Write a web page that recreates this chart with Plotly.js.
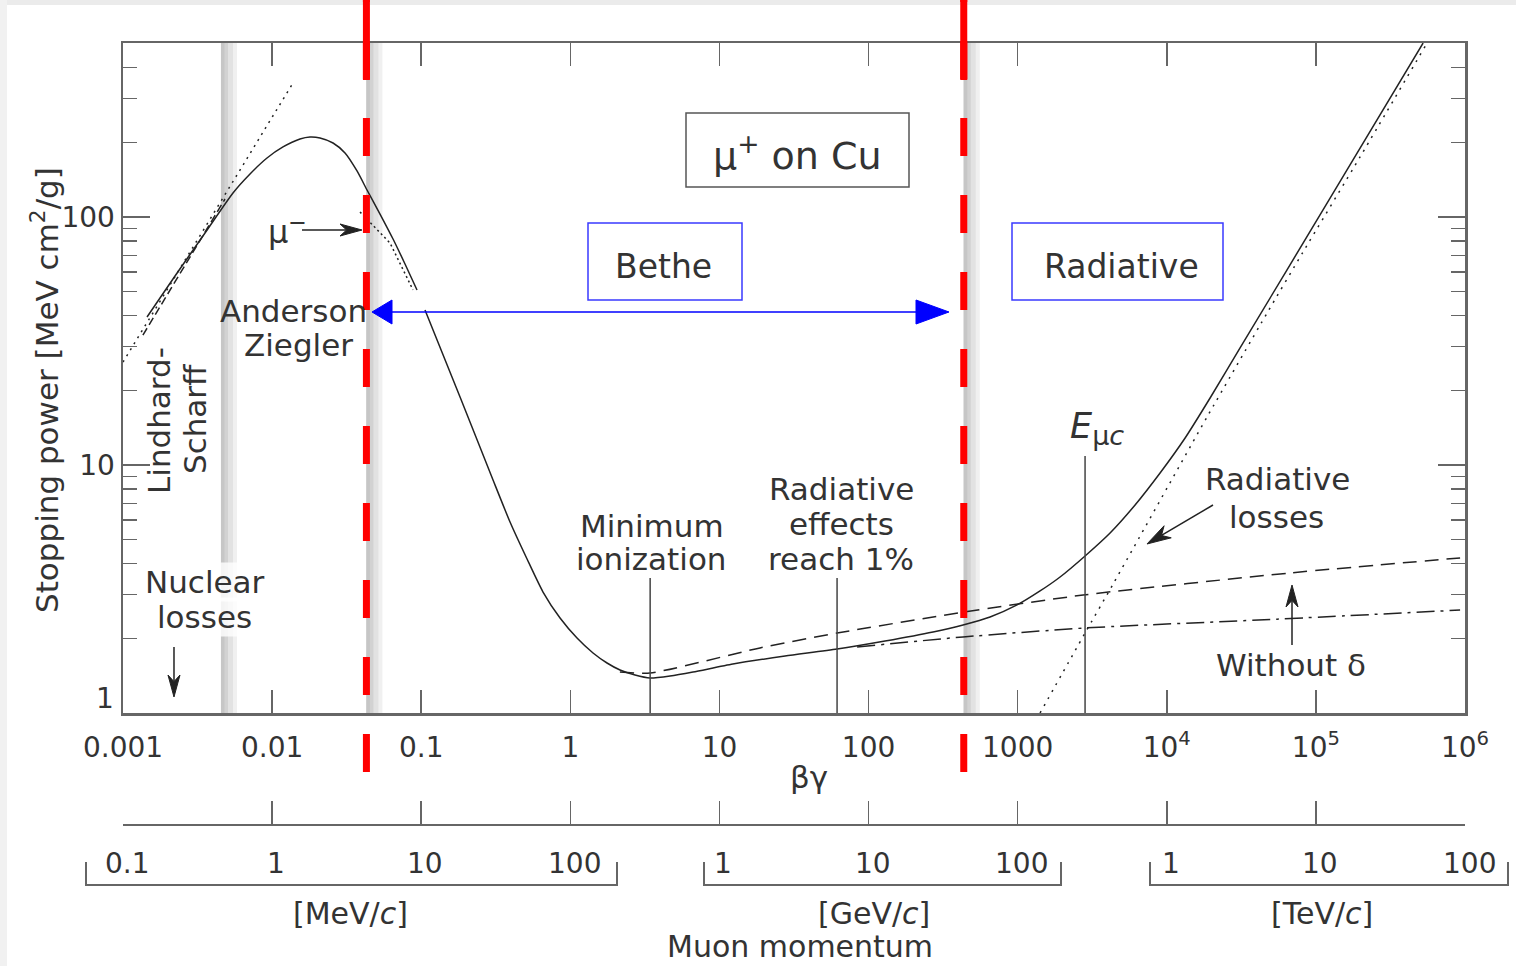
<!DOCTYPE html>
<html><head><meta charset="utf-8">
<script src="https://cdn.plot.ly/plotly-3.0.1.min.js"></script>
<style>html,body{margin:0;padding:0;background:#fff;}#chart{width:1516px;height:966px;}</style>
</head><body><div id="chart"></div>
<script>
// ---------------- data (βγ, stopping power in MeV cm^2/g) ----------------
const azBG = [0.001449, 0.002233, 0.003548, 0.005466, 0.007108, 0.009243, 0.01183, 0.01538, 0.01795, 0.02096, 0.02562, 0.03083, 0.03710, 0.04330, 0.05293, 0.06470, 0.07785, 0.09371];
const azS  = [39.53, 57.82, 86.19, 125.0, 149.1, 172.9, 191.6, 206.3, 210.2, 208.3, 198.8, 181.2, 153.3, 128.5, 102.8, 81.53, 64.65, 50.76];
const muMinusBG = [0.03886, 0.0618, 0.0881];
const muMinusS  = [104.8, 78.5, 50.8];
const lsBG = [0.00136, 0.00281, 0.00483];
const lsS  = [33.4, 68.4, 118.2];
const lowDotBG = [0.001, 0.0138];
const lowDotS  = [26.0, 347];
const betheBG = [0.1060, 0.1821, 0.3031, 0.3941, 0.5125, 0.6560, 0.8530, 1.109, 1.420, 1.762, 2.154, 2.716, 3.423, 4.664, 6.65, 12.3, 27.54, 61.5, 129.0, 270.8, 430.4, 652.9, 990.8, 1413, 1925, 2832, 4166, 6130, 9016, 13270, 19520, 31010, 124500, 523600];
const betheS  = [42.2, 18.80, 8.70, 5.89, 4.178, 3.075, 2.416, 2.006, 1.746, 1.591, 1.491, 1.423, 1.384, 1.410, 1.463, 1.576, 1.697, 1.811, 1.951, 2.122, 2.264, 2.438, 2.727, 3.105, 3.535, 4.297, 5.318, 6.899, 9.285, 12.85, 18.63, 29.64, 119.1, 503];
const withDeltaBG = [2.15, 3.43, 18.7, 61.5, 430, 2748, 67100, 927000];
const withDeltaS  = [1.463, 1.45, 1.83, 2.10, 2.55, 2.99, 3.67, 4.22];
const noDeltaBG = [83.8, 430, 2748, 54900, 927000];
const noDeltaS  = [1.846, 2.026, 2.20, 2.39, 2.60];
const radBG = [1413, 2831, 4365, 18630, 47070, 82060, 197800, 557000];
const radS  = [1.00, 2.102, 3.31, 15.62, 41.0, 72.3, 174.6, 503];
const markBG  = [3.43, 61.5, 2831];      // minimum ionization, radiative effects 1 %, E_muc
const markTop = [3.50, 3.50, 10.87];
const bandBG = [0.00454, 0.0429, 435];
const redBG  = [0.0429, 435];
const xTickVals = [0.001, 0.01, 0.1, 1, 10, 100, 1000, 1e4, 1e5, 1e6];
const xTickText = ['0.001', '0.01', '0.1', '1', '10', '100', '1000', '10<sup>4</sup>', '10<sup>5</sup>', '10<sup>6</sup>'];
const yTickVals = [10, 100];
const yTickText = ['10', '100'];
const yMinorVals = [1,2,3,4,5,6,7,8,9,20,30,40,50,60,70,80,90,200,300,400,500];
const momLabels = ['0.1', '1', '10', '100', '1', '10', '100', '1', '10', '100'];
const momUnits = ['[MeV/<i>c</i>]', '[GeV/<i>c</i>]', '[TeV/<i>c</i>]'];

// ---------------- layout helpers ----------------
const FONT = 'DejaVu Sans, sans-serif';
const TXT = '#333';
const L = 123, W = 1342, B = 906, H = 863;
const xp = px => (px - L) / W;
const yp = py => (B - py) / H;
const AX = '#666';

function txt(px, py, text, size, extra) {
  return Object.assign({xref:'paper', yref:'paper', x:xp(px), y:yp(py), text:text, showarrow:false,
    xanchor:'center', yanchor:'middle', font:{family:FONT, size:size, color:TXT}}, extra || {});
}
function line(x, y, dash, spline) {
  return {type:'scatter', mode:'lines', x:x, y:y, hoverinfo:'skip', showlegend:false,
    line:{color:'#222', width:1.5, dash:dash || 'solid', shape: spline ? 'spline' : 'linear', smoothing:0.6}};
}

const traces = [
  line(azBG, azS, 'solid', true),
  line(muMinusBG, muMinusS, '2px,3px', false),
  line(lsBG, lsS, '8px,4px', false),
  line(lowDotBG, lowDotS, '2px,5px', false),
  line(betheBG, betheS, 'solid', true),
  line(withDeltaBG, withDeltaS, '14px,8px', true),
  line(noDeltaBG, noDeltaS, '18px,6px,3px,6px', true),
  line(radBG, radS, '2px,6px', true)
];
markBG.forEach((v, i) => traces.push({type:'scatter', mode:'lines', x:[v, v], y:[1, markTop[i]],
  hoverinfo:'skip', showlegend:false, line:{color:'#444', width:1.5}}));
// empty trace carrying the momentum axis
traces.push({type:'scatter', mode:'lines', x:[1], y:[null], xaxis:'x2', yaxis:'y', hoverinfo:'skip', showlegend:false});

const shapes = [];
const P = (x, y) => xp(x).toFixed(5) + ',' + yp(y).toFixed(5);
// background strips of the original picture
shapes.push({type:'rect', xref:'paper', yref:'paper', x0:xp(0), x1:xp(1516), y0:yp(5), y1:yp(0), fillcolor:'#ebebeb', line:{width:0}});
shapes.push({type:'rect', xref:'paper', yref:'paper', x0:xp(0), x1:xp(7), y0:yp(966), y1:yp(0), fillcolor:'#f1f1f1', line:{width:0}});
// grey shaded bands
const bandLayers = [[32, '#f0f0f0'], [24, '#e2e2e2'], [14, '#d2d2d2'], [7, '#c6c6c6']];
bandBG.forEach(v => bandLayers.forEach(([w, c]) => shapes.push({type:'rect', xref:'x', xsizemode:'pixel', xanchor:v,
  x0:-w/2, x1:w/2, yref:'y domain', y0:0, y1:1, fillcolor:c, line:{width:0}, layer:'below'})));
// red dashed lines
redBG.forEach(v => {
  shapes.push({type:'line', xref:'x', x0:v, x1:v, yref:'paper', y0:yp(772), y1:yp(0), layer:'above',
    line:{color:'#ff0000', width:7, dash:'38px,39px'}});
  shapes.push({type:'line', xref:'x', x0:v, x1:v, yref:'paper', y0:yp(80), y1:yp(0), layer:'above',
    line:{color:'#ff0000', width:7}});
});
// label boxes
function box(x0, y0, x1, y1, color) {
  shapes.push({type:'rect', xref:'paper', yref:'paper', x0:xp(x0), x1:xp(x1), y0:yp(y1), y1:yp(y0),
    line:{color:color, width:1.5}, fillcolor:'rgba(0,0,0,0)'});
}
box(686, 113, 909, 187, '#555');
box(588, 223, 742, 300, '#3a3aff');
box(1012, 223, 1223, 300, '#3a3aff');
// blue double arrow
shapes.push({type:'path', xref:'paper', yref:'paper', path:'M' + P(390, 312) + 'L' + P(918, 312), line:{color:'#0000ff', width:1.5}});
shapes.push({type:'path', xref:'paper', yref:'paper', path:'M' + P(372, 312) + 'L' + P(392, 300) + 'L' + P(392, 324) + 'Z', fillcolor:'#0000ff', line:{color:'#0000ff', width:1}});
shapes.push({type:'path', xref:'paper', yref:'paper', path:'M' + P(949, 312) + 'L' + P(916, 300) + 'L' + P(916, 324) + 'Z', fillcolor:'#0000ff', line:{color:'#0000ff', width:1}});
// black pointer arrows (tail -> tip, in picture pixels)
function pointer(fx, fy, tx, ty, len, hw) {
  const dx = tx - fx, dy = ty - fy, d = Math.hypot(dx, dy), ux = dx / d, uy = dy / d, nx = -uy, ny = ux;
  const bx = tx - len * ux, by = ty - len * uy, kx = tx - 0.7 * len * ux, ky = ty - 0.7 * len * uy;
  shapes.push({type:'path', xref:'paper', yref:'paper', path:'M' + P(fx, fy) + 'L' + P(kx, ky), line:{color:'#222', width:1.5}});
  shapes.push({type:'path', xref:'paper', yref:'paper',
    path:'M' + P(tx, ty) + 'L' + P(bx + hw * nx, by + hw * ny) + 'L' + P(kx, ky) + 'L' + P(bx - hw * nx, by - hw * ny) + 'Z',
    fillcolor:'#222', line:{color:'#222', width:1}});
}
pointer(302, 230, 362, 230, 22, 6);
pointer(174, 647, 174, 697, 22, 6);
pointer(1213, 505, 1147, 544, 24, 7);
pointer(1292, 645, 1292, 585, 22, 6);
// momentum unit brackets
[[86, 617], [704, 1061], [1150, 1508]].forEach(([a, b]) => shapes.push({type:'path', xref:'paper', yref:'paper',
  path:'M' + P(a, 862) + 'L' + P(a, 885) + 'L' + P(b, 885) + 'L' + P(b, 862), line:{color:AX, width:2}}));

const annotations = [
  txt(797, 153, 'μ<sup>+</sup> on Cu', 38),
  txt(663, 266, 'Bethe', 33),
  txt(1121, 266, 'Radiative', 33),
  txt(287, 230, 'μ<sup>−</sup>', 32),
  txt(293, 311, 'Anderson', 31),
  txt(298, 345, 'Ziegler', 31),
  txt(159, 421, 'Lindhard-', 31, {textangle:-90}),
  txt(195, 419, 'Scharff', 31, {textangle:-90}),
  txt(205, 582, 'Nuclear', 31, {bgcolor:'rgba(255,255,255,0.8)'}),
  txt(204, 617, 'losses', 31, {bgcolor:'rgba(255,255,255,0.8)'}),
  txt(652, 526, 'Minimum', 31),
  txt(651, 559, 'ionization', 31),
  txt(841, 489, 'Radiative', 31),
  txt(841, 524, 'effects', 31),
  txt(841, 559, 'reach 1%', 31),
  txt(1068, 428, '<i>E</i><sub><span style="font-size:27px">μ<i>c</i></span></sub>', 35, {xanchor:'left'}),
  txt(1277, 479, 'Radiative', 31),
  txt(1276, 517, 'losses', 31),
  txt(1291, 665, 'Without δ', 31),
  txt(105, 698, '1', 28),
  txt(45, 390, 'Stopping power [MeV cm<sup>2</sup>/g]', 31, {textangle:-90}),
  txt(809, 777, 'βγ', 31),
  txt(800, 966, 'Muon momentum', 30, {yanchor:'bottom'})
];
momLabels.forEach((t, i) => annotations.push({xref:'x', yref:'paper', x:Math.log10(xTickVals[i]), xshift:4, y:yp(863),
  text:t, showarrow:false, xanchor:'center', yanchor:'middle', font:{family:FONT, size:28, color:TXT}}));
[350, 874, 1322].forEach((px, i) => annotations.push(txt(px, 913, momUnits[i], 30)));

const layout = {
  width:1516, height:966, margin:{l:123, r:51, t:43, b:60},
  paper_bgcolor:'#fff', plot_bgcolor:'#fff', showlegend:false,
  font:{family:FONT, color:TXT},
  xaxis:{type:'log', range:[-3, 6], anchor:'y', tickvals:xTickVals, ticktext:xTickText,
    ticks:'inside', ticklen:23, tickwidth:1.5, tickcolor:AX, mirror:'ticks', showline:true, linecolor:AX, linewidth:2.5,
    showgrid:false, zeroline:false, tickfont:{family:FONT, size:28, color:TXT}, ticklabelstandoff:8},
  xaxis2:{type:'log', range:[-3, 6], overlaying:'x', anchor:'free', position:yp(825), tickvals:xTickVals,
    ticks:'inside', ticklen:23, tickwidth:1.5, tickcolor:AX, showline:true, linecolor:AX, linewidth:2,
    showticklabels:false, showgrid:false, zeroline:false},
  yaxis:{type:'log', range:[0, 2.7016], domain:[yp(713), 1], tickvals:yTickVals, ticktext:yTickText,
    ticks:'inside', ticklen:27, tickwidth:1.5, tickcolor:AX, mirror:'ticks', showline:true, linecolor:AX, linewidth:2.5,
    showgrid:false, zeroline:false, tickfont:{family:FONT, size:28, color:TXT},
    minor:{tickvals:yMinorVals, ticks:'inside', ticklen:14, tickwidth:1.5, tickcolor:AX, showgrid:false}},
  shapes:shapes, annotations:annotations
};
Plotly.newPlot('chart', traces, layout, {displayModeBar:false, staticPlot:true});
</script></body></html>
